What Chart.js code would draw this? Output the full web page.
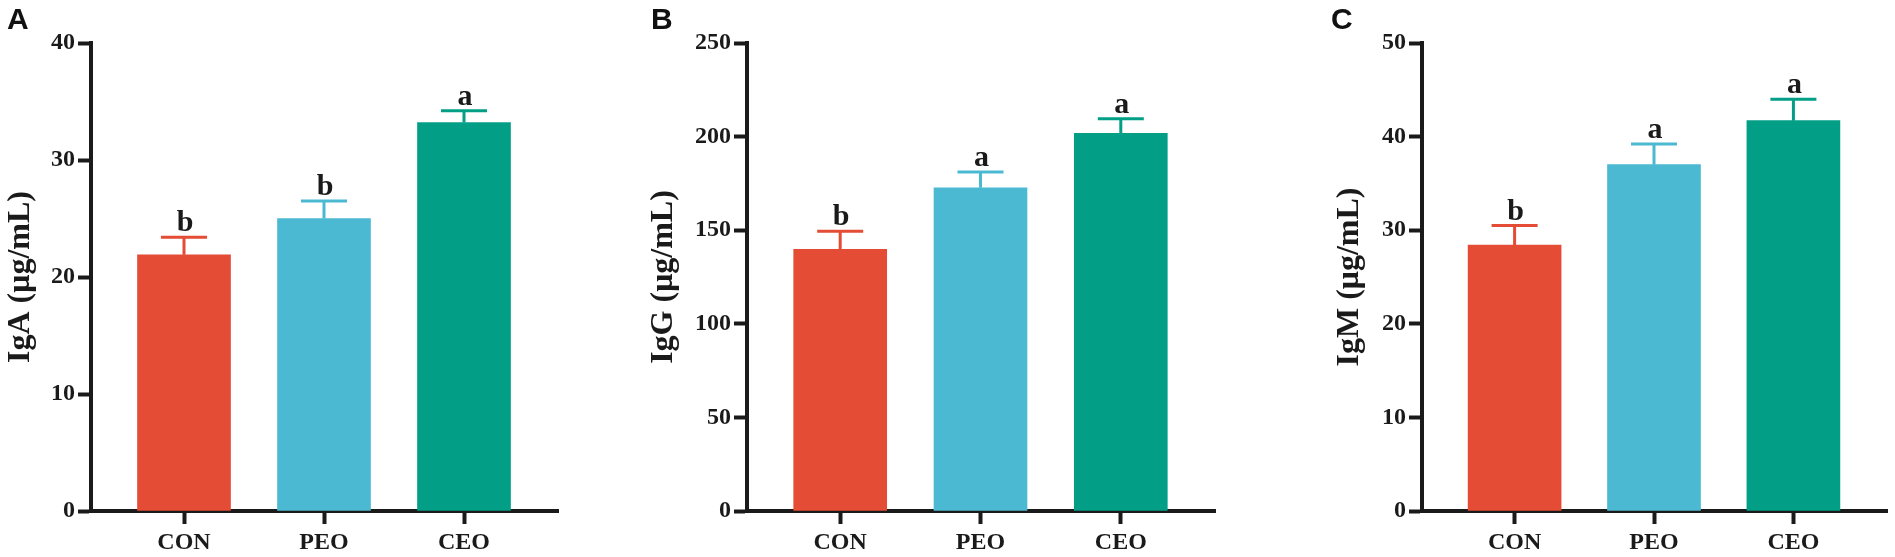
<!DOCTYPE html>
<html>
<head>
<meta charset="utf-8">
<script src="https://cdn.jsdelivr.net/npm/chart.js@4.4.1/dist/chart.umd.min.js"></script>
<style>
  body { margin: 0; background: #fff; width: 1895px; height: 557px; overflow: hidden; position: relative; }
  .panel { position: absolute; top: 0; height: 557px; }
  .tag { position: absolute; top: 4px; font: bold 30px "Liberation Sans", Arial, sans-serif; line-height: 30px; color: #111; }
</style>
</head>
<body>
<div class="panel" style="left:0px;width:559px"><canvas id="chartA"></canvas></div>
<div class="panel" style="left:643px;width:573px"><canvas id="chartB"></canvas></div>
<div class="panel" style="left:1329px;width:559px"><canvas id="chartC"></canvas></div>
<div class="tag" style="left:7px">A</div>
<div class="tag" style="left:651px">B</div>
<div class="tag" style="left:1331px">C</div>
<script>
// groups + colours
const groups = ["CON", "PEO", "CEO"];
const barColors = ["#E44C35", "#4CB9D3", "#039E86"];

// IgA
const igaMean = [21.9, 25.0, 33.2];
const igaErr = [1.5, 1.5, 1.0];
const igaLetters = ["b", "b", "a"];

// IgG
const iggMean = [139.8, 172.7, 201.8];
const iggErr = [9.6, 8.4, 7.8];
const iggLetters = ["b", "a", "a"];

// IgM
const igmMean = [28.4, 37.0, 41.7];
const igmErr = [2.1, 2.2, 2.3];
const igmLetters = ["b", "a", "a"];

// y axis ranges
const yMaxes = [40, 250, 50];
const ySteps = [10, 50, 10];
const yTitles = ["IgA (μg/mL)", "IgG (μg/mL)", "IgM (μg/mL)"];

const ink = "#1a1a1a";
const serif = "'Liberation Serif', 'Times New Roman', serif";

//--------------error bars + letters
const errorBars = {
  id: "errorBars",
  afterDatasetsDraw(chart, args, opts) {
    const ctx = chart.ctx;
    const xs = chart.scales.x;
    const ys = chart.scales.y;
    ctx.save();
    opts.means.forEach((m, i) => {
      let x = xs.getPixelForValue(i);
      let yBar = ys.getPixelForValue(m);
      let yTop = ys.getPixelForValue(m + opts.errs[i]);
      ctx.strokeStyle = barColors[i];
      ctx.lineWidth = 3;
      ctx.beginPath();
      ctx.moveTo(x, yBar);
      ctx.lineTo(x, yTop);
      ctx.moveTo(x - 23, yTop);
      ctx.lineTo(x + 23, yTop);
      ctx.stroke();
      ctx.fillStyle = ink;
      ctx.font = "bold 30px " + serif;
      ctx.textAlign = "center";
      ctx.textBaseline = "alphabetic";
      ctx.fillText(opts.letters[i], x + 1, yTop - 6);
    });
    ctx.restore();
  },
};

function makepanel(id, means, errs, letters, k, yWidth) {
  const ctx = document.getElementById(id);
  return new Chart(ctx, {
    type: "bar",
    data: {
      datasets: [
        {
          data: groups.map((g, i) => ({ x: i, y: means[i] })),
          backgroundColor: barColors,
          borderWidth: 0,
          barThickness: 93,
        },
      ],
    },
    options: {
      responsive: true,
      maintainAspectRatio: false,
      animation: false,
      layout: { padding: { top: 43, right: 0, bottom: 0, left: 0 } },
      plugins: {
        legend: { display: false },
        tooltip: { enabled: false },
        errorBars: { means: means, errs: errs, letters: letters },
      },
      scales: {
        x: {
          type: "linear",
          min: -93 / 140,
          max: 375 / 140,
          offset: false,
          z: 1,
          afterFit: (s) => { s.height = 46; },
          afterBuildTicks: (s) => { s.ticks = groups.map((g, i) => ({ value: i })); },
          border: { display: true, width: 4, color: ink },
          grid: { display: true, offset: false, drawOnChartArea: false, tickLength: 13, tickWidth: 4, tickColor: ink },
          ticks: {
            autoSkip: false,
            maxRotation: 0,
            padding: 4,
            color: ink,
            font: { family: serif, size: 24, weight: "bold" },
            callback: (v) => groups[v],
          },
        },
        y: {
          min: 0,
          max: yMaxes[k],
          z: 1,
          afterFit: (s) => { s.width = yWidth; },
          border: { display: true, width: 4, color: ink },
          grid: { display: true, drawOnChartArea: false, tickLength: 13, tickWidth: 4, tickColor: ink },
          ticks: {
            stepSize: ySteps[k],
            padding: 3,
            color: ink,
            font: { family: serif, size: 24, weight: "bold" },
          },
          title: {
            display: true,
            text: yTitles[k],
            color: ink,
            padding: { top: 2, bottom: 0 },
            font: { family: serif, size: 32, weight: "bold" },
          },
        },
      },
    },
    plugins: [errorBars],
  });
}

makepanel("chartA", igaMean, igaErr, igaLetters, 0, 91);
makepanel("chartB", iggMean, iggErr, iggLetters, 1, 104);
makepanel("chartC", igmMean, igmErr, igmLetters, 2, 93);
</script>
</body>
</html>
